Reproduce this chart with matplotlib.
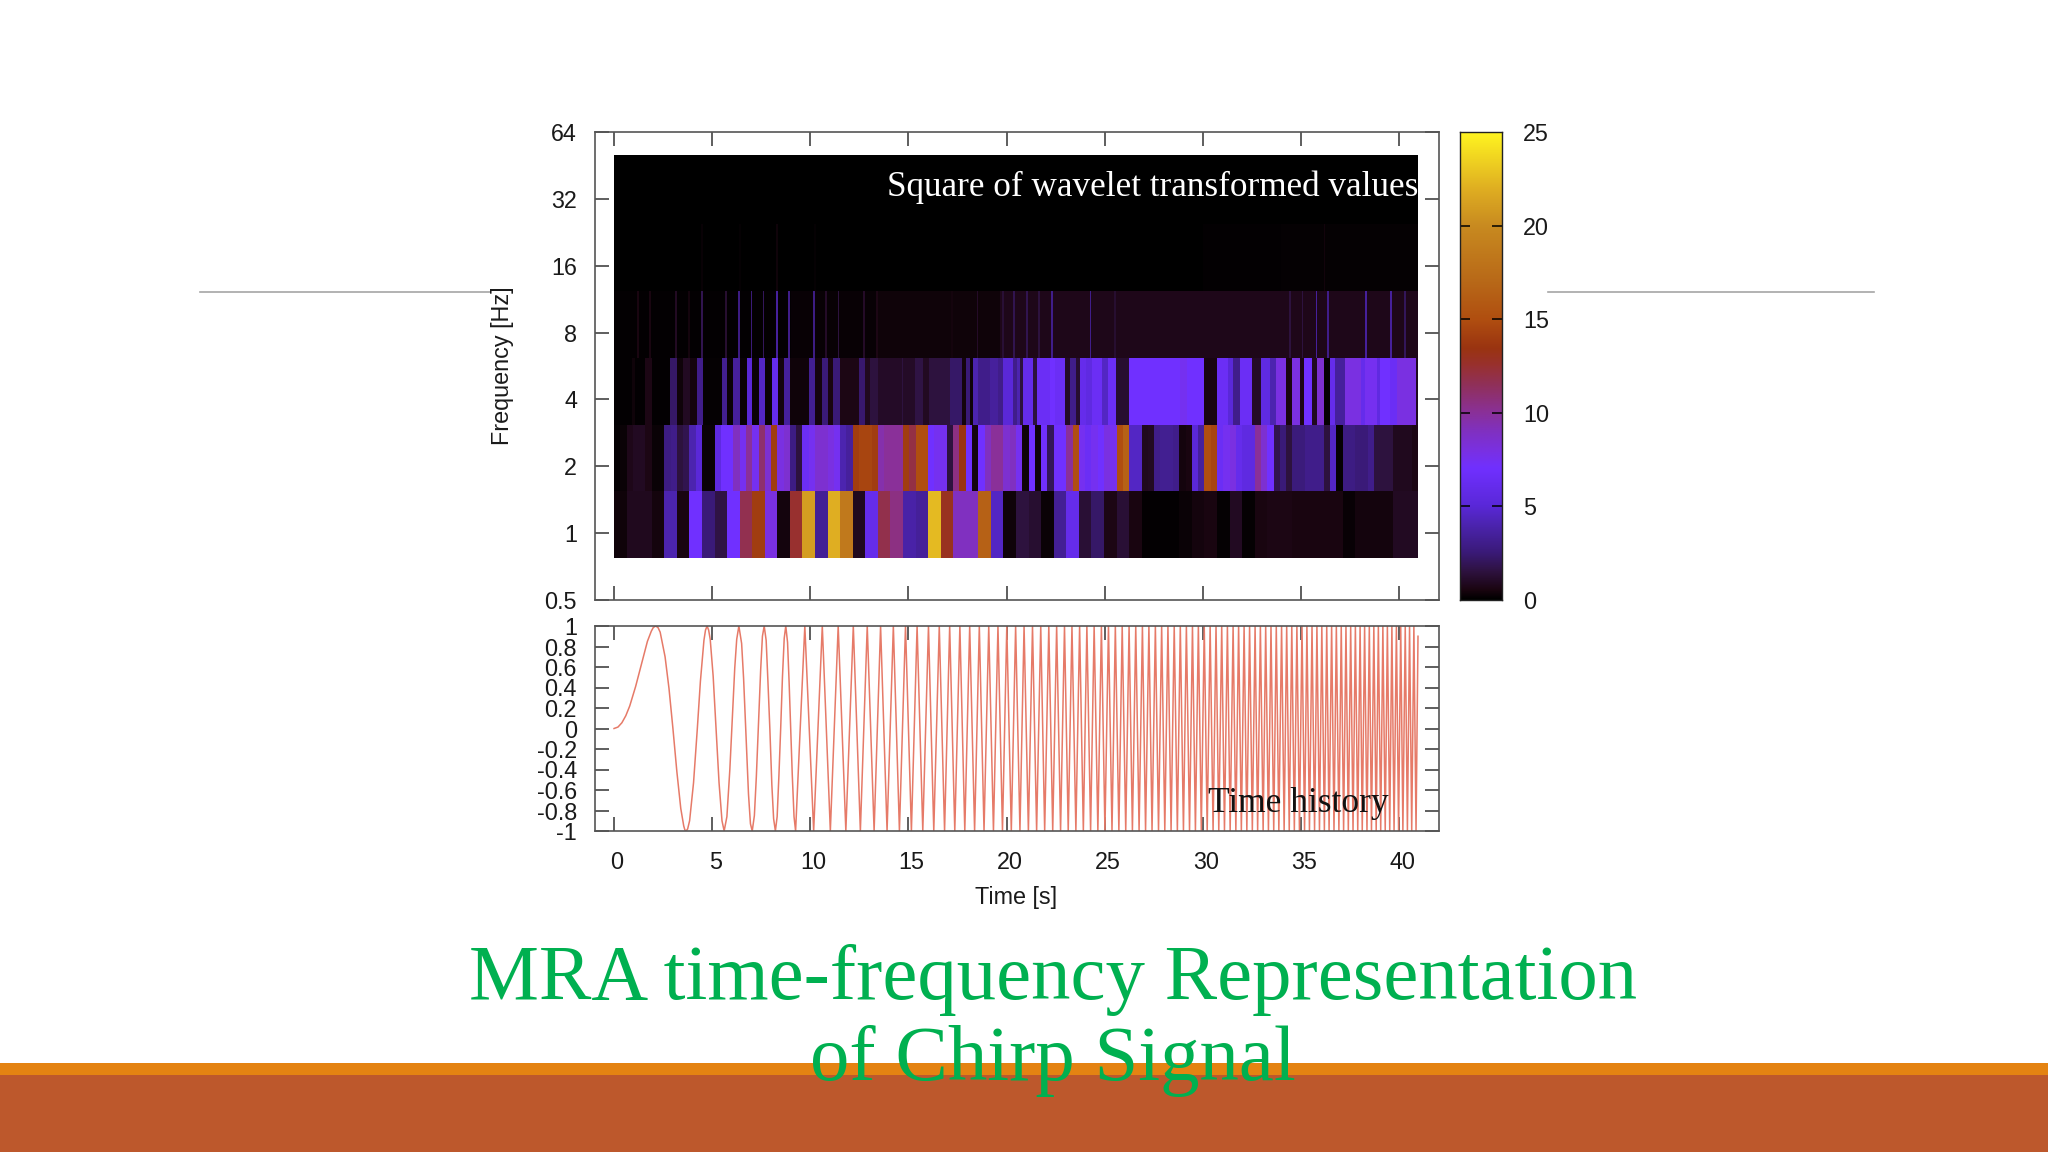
import numpy as np
import matplotlib
matplotlib.use("Agg")
import matplotlib.pyplot as plt
from matplotlib.colors import LinearSegmentedColormap
from matplotlib.transforms import ScaledTranslation

W, H = 2048, 1152

### data ###

freq_ticks = [0.5, 1, 2, 4, 8, 16, 32, 64]
freq_labels = ["0.5", "1", "2", "4", "8", "16", "32", "64"]
time_ticks = [0, 5, 10, 15, 20, 25, 30, 35, 40]
amp_ticks = [-1, -0.8, -0.6, -0.4, -0.2, 0, 0.2, 0.4, 0.6, 0.8, 1]
amp_labels = ["-1", "-0.8", "-0.6", "-0.4", "-0.2", "0", "0.2", "0.4", "0.6", "0.8", "1"]
cbar_ticks = [0, 5, 10, 15, 20, 25]

# lower edge of each frequency band [Hz]
band_edges = [0.77, 1.54, 3.08, 6.16, 12.3, 24.7, 50.2]
t_end = 40.96

# 64 cells, around 1 Hz
band1 = [0.3, 0.8, 0.8, 0.4, 4, 0.5, 7, 2.5, 1.6, 7, 11.7, 14, 8, 0.4, 12.5, 21,
         3.3, 22, 18.5, 0.8, 6, 11.8, 10.5, 3.8, 3.4, 22.5, 13, 9, 9, 16.5, 4.5, 0.3,
         1.5, 1.2, 0.2, 3.3, 6, 1.3, 2.2, 0.6, 1.3, 0.5, 0.05, 0.05, 0.05, 0.2, 0.4, 0.5,
         0.1, 0.9, 0.1, 0.5, 0.6, 0.6, 0.5, 0.5, 0.5, 0.5, 0.15, 0.4, 0.4, 0.4, 0.9, 0.9]

# 128 cells, around 2 Hz
band2 = [0.1, 0.2, 0.7, 0.9, 0.9, 0.6, 0.2, 0.2, 2.8, 3, 1.5, 1.8, 4, 5, 0.2, 0.2,
         5.5, 7, 7, 9, 7.5, 10, 7.5, 11, 8.5, 14, 8, 8.5, 2.8, 1.5, 6.5, 7.5,
         8.5, 8.5, 8, 7.5, 4, 3.5, 14, 14.5, 14.5, 14, 9.5, 10, 10, 10, 14, 12,
         15, 15, 7, 7.5, 7.5, 1.5, 10.5, 13.5, 7, 0.4, 7, 9, 10, 10, 8.5, 9,
         7.5, 0.3, 7, 0.3, 7, 2, 7, 7, 10, 15, 7.5, 6.5, 7.5, 7, 8, 7.5,
         15, 16.5, 4.5, 4.5, 0.8, 0.9, 3, 3.2, 3.2, 3, 0.4, 0.5, 5, 3.5, 15, 14.5,
         6.5, 7.5, 8, 6, 5.5, 5.5, 10, 8.5, 7, 1.8, 2.5, 1.5, 2.6, 2.6, 3, 3,
         3, 1.5, 4.5, 0.1, 2.8, 2.8, 2.5, 2.5, 3, 1.5, 1.5, 1.5, 0.8, 0.8, 0.8, 0.6]

# around 4 Hz: runs of equal colour, edges in seconds
band3_t = [0, 0.9, 1.07, 1.58, 1.92, 2.85, 3.23, 3.53, 3.87, 4.21, 4.52, 5.48, 5.74, 6.08,
           6.42, 6.76, 7.05, 7.40, 7.67, 8.03, 8.34, 8.64, 8.96, 9.95, 10.24, 10.58, 10.88,
           11.17, 11.51, 12.50, 12.80, 13.04, 13.46, 14.65, 14.74, 15.33, 15.76, 16.06, 17.11,
           17.71, 17.93, 18.13, 18.30, 18.56, 19.15, 19.58, 19.83, 20.34, 20.51, 20.68, 20.85,
           21.36, 21.53, 22.21, 22.46, 22.97, 23.23, 23.56, 23.73, 24.04, 24.33, 24.84, 25.18,
           25.57, 26.23, 28.83, 29.17, 30.05, 30.70, 31.29, 31.54, 31.88, 32.51, 32.98, 33.41,
           33.75, 34.26, 34.53, 34.94, 35.16, 35.56, 35.82, 36.16, 36.47, 36.72, 37.23, 38.08,
           38.25, 38.85, 39.02, 39.53, 39.87, 40.88, 40.96]
band3_v = [0.05, 0.3, 0.05, 0.6, 0.05, 2.2, 0.3, 0.9, 0.4, 3, 0.1, 3.2, 0.2, 3.5,
           0.2, 5, 0.2, 4.5, 0.2, 6, 0.4, 3.5, 0.3, 3.2, 0.4, 2.5, 0.5,
           2.5, 0.6, 2.3, 0.8, 1.5, 1, 1.5, 1, 1.6, 0.9, 1.5, 2.2,
           0.4, 2.5, 0.3, 4, 3, 3.5, 3, 5, 3, 4, 1.5,
           6, 1.5, 6.5, 7, 6.5, 1, 3, 1.2, 6, 5.5, 6.5, 4.5,
           6.5, 1.2, 7, 7.5, 7, 0.5, 6.5, 5, 3, 6.5, 1, 5.5,
           4, 8, 0.5, 8, 0.6, 7, 0.8, 8.5, 0.1, 6, 3.5, 8,
           6, 7.5, 5.5, 7, 6.5, 8, 0.8]

# around 8 Hz: dark background with thin lines
band4_base_t = [0, 9.0, 13.4, 19.66, 40.96]
band4_base_v = [0.05, 0.15, 0.3, 0.7]
band4_line_t = [1.24, 1.84, 3.16, 3.82, 4.47, 5.69, 6.37, 7.0, 7.61, 8.29, 8.91, 10.19, 10.8,
                11.43, 12.73, 13.38, 17.2, 18.52, 19.83, 20.37, 21.02, 21.66, 22.33, 24.28,
                25.52, 34.43, 35.08, 35.79, 36.38, 38.33, 39.6, 40.29]
band4_line_v = [0.5, 0.5, 0.9, 0.4, 1.8, 1.2, 2.8, 2.5, 2, 3.5, 3, 2.8, 1, 1.5, 1, 0.6, 0.4,
                1, 1.3, 1.8, 1.8, 1.5, 3, 3, 1.2, 1.5, 1.5, 3.5, 3, 3.5, 3.5, 2]

# around 16 Hz: almost black
band5_base_t = [0, 30.0, 34.0, 40.96]
band5_base_v = [0.02, 0.05, 0.12]
band5_line_t = [4.47, 6.42, 8.31, 10.24, 36.2]
band5_line_v = [0.15, 0.1, 0.3, 0.1, 0.35]

band6_t = [0, 40.96]
band6_v = [0.0]

# first cycles of the time history, read point by point
hist_t = [0, 0.2, 0.4, 0.6, 0.8, 1.1, 1.4, 1.7, 1.9, 2.0, 2.12, 2.24, 2.35, 2.6, 2.8, 3.0, 3.2,
          3.4, 3.55, 3.61, 3.67, 3.75, 3.85, 4.05, 4.24, 4.4, 4.58, 4.66, 4.74, 4.82, 4.9, 5.05,
          5.2, 5.35, 5.5, 5.61, 5.75, 5.9, 6.0, 6.15, 6.25, 6.36, 6.5, 6.6, 6.71, 6.85, 6.95,
          7.04, 7.15, 7.25, 7.35, 7.47, 7.56, 7.65, 7.75, 7.84, 7.94, 8.04, 8.13, 8.22, 8.31,
          8.4, 8.49, 8.58, 8.67, 8.75, 8.84, 8.92, 9.0, 9.08, 9.17, 9.25]
hist_v = [0, 0.014, 0.056, 0.125, 0.22, 0.41, 0.63, 0.85, 0.95, 0.985, 1, 0.985, 0.94, 0.70, 0.39, 0, -0.42,
          -0.78, -0.95, -0.99, -1, -0.98, -0.90, -0.53, -0.01, 0.46, 0.86, 0.96, 1, 0.96, 0.87, 0.51,
          -0.01, -0.53, -0.90, -1, -0.86, -0.40, 0, 0.59, 0.87, 1, 0.83, 0.49, 0, -0.64, -0.93,
          -1, -0.85, -0.47, 0, 0.57, 0.90, 1, 0.86, 0.46, -0.01, -0.55, -0.88, -1, -0.86,
          -0.46, 0, 0.50, 0.88, 1, 0.84, 0.45, 0, -0.45, -0.86, -1]

# after that only the tips are readable
peak_t = [9.72, 10.61, 11.42, 12.19, 12.90, 13.58, 14.23, 14.85, 15.44, 16.02, 16.57, 17.10,
          17.62, 18.12, 18.61, 19.09, 19.56, 20.01, 20.46, 20.89, 21.32, 21.74, 22.15, 22.55,
          22.95, 23.33, 23.72, 24.09, 24.46, 24.83, 25.19, 25.54, 25.89, 26.24, 26.58, 26.92,
          27.25, 27.58, 27.90, 28.22, 28.54, 28.85, 29.16, 29.47, 29.77, 30.07, 30.37, 30.67,
          30.96, 31.25, 31.54, 31.82, 32.10, 32.38, 32.66, 32.93, 33.20, 33.47, 33.74, 34.01,
          34.27, 34.53, 34.79, 35.05, 35.30, 35.56, 35.81, 36.06, 36.31, 36.56, 36.80, 37.05,
          37.29, 37.53, 37.77, 38.01, 38.24, 38.48, 38.71, 38.94, 39.17, 39.40, 39.63, 39.86,
          40.08, 40.31, 40.53, 40.75]
trough_t = [10.17, 11.02, 11.81, 12.55, 13.25, 13.91, 14.54, 15.15, 15.73, 16.29, 16.84, 17.36,
            17.87, 18.37, 18.85, 19.33, 19.79, 20.24, 20.68, 21.11, 21.53, 21.94, 22.35, 22.75,
            23.14, 23.53, 23.91, 24.28, 24.65, 25.01, 25.37, 25.72, 26.07, 26.41, 26.75, 27.08,
            27.41, 27.74, 28.06, 28.38, 28.70, 29.01, 29.32, 29.62, 29.92, 30.22, 30.52, 30.81,
            31.10, 31.39, 31.68, 31.96, 32.24, 32.52, 32.79, 33.07, 33.34, 33.61, 33.87, 34.14,
            34.40, 34.66, 34.92, 35.18, 35.43, 35.69, 35.94, 36.19, 36.43, 36.68, 36.93, 37.17,
            37.41, 37.65, 37.89, 38.12, 38.36, 38.59, 38.83, 39.06, 39.29, 39.52, 39.74, 39.97,
            40.19, 40.42, 40.64, 40.86]
end_t = [40.96]
end_v = [0.9]

# colours of the colour box
cmap_pos = [0, 0.5, 1.5, 2.5, 4, 5, 7, 8, 9, 10, 11.5, 12.5, 13.5, 15, 17, 20, 22, 25]
cmap_col = ["#000000", "#1a0510", "#2e1240", "#3a1a78", "#4c24b0", "#5a28d8", "#7030ff", "#7a30e0",
            "#8030c0", "#8a3098", "#903058", "#983030", "#9a3410", "#b04e10", "#b86818", "#c88a20",
            "#dfae22", "#fff420"]


def add_axes_px(fig, left, top, right, bottom):
    return fig.add_axes([left / W, 1 - bottom / H, (right - left) / W, (bottom - top) / H])


def text_px(fig, x, y, s, **kw):
    return fig.text(x / W, 1 - y / H, s, **kw)


def draw_band(ax, edges, values, lo, hi, cmap):
    row = np.array(values, dtype=float).reshape(1, -1)
    ax.pcolormesh(edges, [lo, hi], row, cmap=cmap, vmin=0, vmax=25, shading="flat",
                  antialiased=False, linewidth=0, zorder=1)


def draw_lines(ax, centers, values, lo, hi, cmap, width=0.09):
    # thin lines on top of a band, gaps stay empty through nan
    edges, row = [], []
    for c, v in zip(centers, values):
        edges += [c - width / 2, c + width / 2]
        row += [v, np.nan]
    draw_band(ax, edges, row[:-1], lo, hi, cmap)


def style_axes(ax):
    for s in ax.spines.values():
        s.set_color("#555555")
        s.set_linewidth(1.2)
    ax.tick_params(which="major", direction="in", length=10, width=1.1, color="#333333",
                   top=True, right=True, labelsize=16.8, labelcolor="#1a1a1a", pad=13)
    ax.minorticks_off()


plt.rcParams["font.family"] = ["Liberation Sans", "DejaVu Sans"]
fig = plt.figure(figsize=(W / 100, H / 100), dpi=100, facecolor="white")
cmap = LinearSegmentedColormap.from_list("box", [(p / 25, c) for p, c in zip(cmap_pos, cmap_col)], N=512)

# slide decoration
bg = fig.add_axes([0, 0, 1, 1], zorder=0)
bg.set_xlim(0, W)
bg.set_ylim(H, 0)
bg.axis("off")
bg.plot([200, 490], [292, 292], color="#a6a6a6", lw=1.2)
bg.plot([1548, 1874], [292, 292], color="#a6a6a6", lw=1.2)
bg.fill_between([0, W], 1063, 1075, color="#E48312", lw=0)
bg.fill_between([0, W], 1075, H, color="#BD582C", lw=0)

# wavelet map
ax = add_axes_px(fig, 595, 132, 1439, 600)
ax.set_zorder(2)
ax.set_yscale("log", base=2)
ax.set_xlim(-0.97, 42.03)
ax.set_ylim(0.5, 64)

draw_band(ax, np.linspace(0, t_end, len(band1) + 1), band1, band_edges[0], band_edges[1], cmap)
draw_band(ax, np.linspace(0, t_end, len(band2) + 1), band2, band_edges[1], band_edges[2], cmap)
draw_band(ax, band3_t, band3_v, band_edges[2], band_edges[3], cmap)
draw_band(ax, band4_base_t, band4_base_v, band_edges[3], band_edges[4], cmap)
draw_lines(ax, band4_line_t, band4_line_v, band_edges[3], band_edges[4], cmap)
draw_band(ax, band5_base_t, band5_base_v, band_edges[4], band_edges[5], cmap)
draw_lines(ax, band5_line_t, band5_line_v, band_edges[4], band_edges[5], cmap)
draw_band(ax, band6_t, band6_v, band_edges[5], band_edges[6], cmap)

style_axes(ax)
ax.set_yticks(freq_ticks)
ax.set_yticklabels(freq_labels)
ax.set_xticks(time_ticks)
ax.tick_params(labelbottom=False)
ax.minorticks_off()

# time history
ax2 = add_axes_px(fig, 595, 626, 1439, 831)
ax2.set_zorder(2)
hist_all_t = np.concatenate([hist_t, peak_t, trough_t, end_t])
hist_all_v = np.concatenate([hist_v, np.ones(len(peak_t)), -np.ones(len(trough_t)), end_v])
order = np.argsort(hist_all_t)
ax2.plot(hist_all_t[order], hist_all_v[order], color="#e67a68", lw=1.1, solid_joinstyle="miter")
ax2.set_xlim(-0.97, 42.03)
ax2.set_ylim(-1, 1)
style_axes(ax2)
ax2.set_xticks(time_ticks)
ax2.set_yticks(amp_ticks)
ax2.set_yticklabels(amp_labels)
ax2.tick_params(axis="x", pad=14.5)
for lab in ax2.get_xticklabels():
    lab.set_transform(lab.get_transform() + ScaledTranslation(3 / 100, 0, fig.dpi_scale_trans))

# colour box
cax = add_axes_px(fig, 1460, 132, 1502, 600)
cax.set_zorder(2)
cax.imshow(np.linspace(25, 0, 256).reshape(-1, 1), aspect="auto", cmap=cmap, vmin=0, vmax=25,
           extent=[0, 1, 0, 25])
cax.set_xticks([])
cax.set_yticks(cbar_ticks)
cax.tick_params(axis="y", direction="in", length=7.5, width=1.1, left=True, right=True,
                labelleft=False, labelright=True, labelsize=16.8, labelcolor="#1a1a1a", pad=15)
# no dash at both ends of the box
for tk in (cax.yaxis.get_major_ticks()[0], cax.yaxis.get_major_ticks()[-1]):
    tk.tick1line.set_visible(False)
    tk.tick2line.set_visible(False)
for s in cax.spines.values():
    s.set_color("#222222")
    s.set_linewidth(1.0)

# texts
text_px(fig, 502.5, 366, "Frequency [Hz]", rotation=90, ha="center", va="center", fontsize=16.8, color="#1a1a1a", zorder=5)
text_px(fig, 1016.5, 897.5, "Time [s]", ha="center", va="center", fontsize=16.8, color="#1a1a1a", zorder=5)
text_px(fig, 1418, 195.5, "Square of wavelet transformed values", ha="right", va="baseline",
        family="Liberation Serif", fontsize=25.25, color="white", zorder=5)
text_px(fig, 1208, 812, "Time history", ha="left", va="baseline",
        family="Liberation Serif", fontsize=25.5, color="#111111", zorder=5)
text_px(fig, 1053, 998.5, "MRA time-frequency Representation", ha="center", va="baseline",
        family="Liberation Serif", fontsize=56.7, color="#00B050", zorder=5)
text_px(fig, 1053, 1080, "of Chirp Signal", ha="center", va="baseline",
        family="Liberation Serif", fontsize=56.7, color="#00B050", zorder=5)

fig.savefig("out.png", dpi=100, facecolor="white")
